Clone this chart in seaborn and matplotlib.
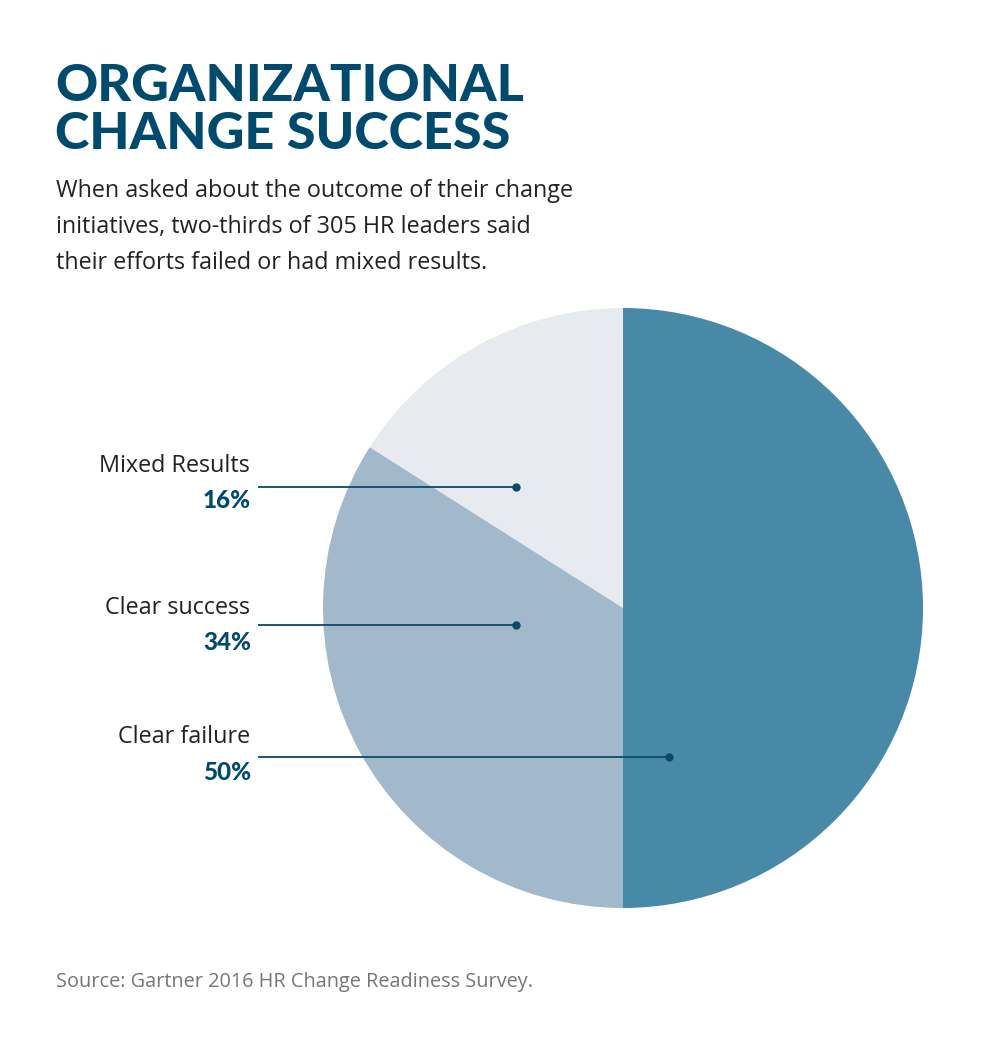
import matplotlib
matplotlib.use("Agg")
import matplotlib.pyplot as plt
import seaborn as sns

# data
categories = ["Mixed Results", "Clear success", "Clear failure"]
shares = [16, 34, 50]
pct_labels = ["16%", "34%", "50%"]
colors = ["#E7EBF0", "#A2B8CB", "#4889A8"]

TITLE_LINES = ["ORGANIZATIONAL", "CHANGE SUCCESS"]
SUBTITLE = ["When asked about the outcome of their change",
            "initiatives, two-thirds of 305 HR leaders said",
            "their efforts failed or had mixed results."]
SOURCE = "Source: Gartner 2016 HR Change Readiness Survey."

sns.set_theme(style="white")
plt.rcParams["font.family"] = ["Open Sans", "DejaVu Sans"]
LATO = ["Lato", "DejaVu Sans"]

W, H = 1001, 1041
fig = plt.figure(figsize=(W / 100, H / 100), dpi=100)
fig.patch.set_facecolor("white")

# pie axes: centre (623, 608) px, radius 300 px
cx, cy, r = 623, 608, 300
ax = fig.add_axes([(cx - r) / W, (H - cy - r) / H, 2 * r / W, 2 * r / H])
ax.pie(shares, colors=colors, startangle=90, counterclock=True,
       radius=1, wedgeprops=dict(linewidth=0))
ax.set_xlim(-1, 1)
ax.set_ylim(-1, 1)
ax.set_aspect("equal")
ax.axis("off")

# overlay in pixel coordinates for text and leader lines
ov = fig.add_axes([0, 0, 1, 1])
ov.set_xlim(0, W)
ov.set_ylim(H, 0)
ov.axis("off")
ov.patch.set_alpha(0)

dark = "#004A6E"
for i, line in enumerate(TITLE_LINES):
    ov.text(55, 101 + i * 48, line, fontsize=37.5, fontweight="black",
            family=LATO, color=dark, va="baseline", ha="left")

for i, line in enumerate(SUBTITLE):
    ov.text(56, 197 + i * 36, line, fontsize=16.8, color="#222222",
            va="baseline", ha="left")

# label layout (pixels): text baseline, line y, pct baseline, dot x
layout = [(472, 487, 508, 516), (614, 625, 650, 516), (743, 757, 780, 669)]
for name, pct, (ty, ly, py, dx) in zip(categories, pct_labels, layout):
    ov.text(250, ty, name, fontsize=16.8, color="#222222",
            va="baseline", ha="right")
    ov.text(251, py, pct, fontsize=17.5, fontweight="black", family=LATO,
            color=dark, va="baseline", ha="right")
    ov.plot([258, dx], [ly, ly], color="#0B4A6B", lw=1.3,
            solid_capstyle="butt")
    ov.plot([dx], [ly], "o", color="#0B4A6B", ms=5)

ov.text(56, 987, SOURCE, fontsize=14.3, color="#767676",
        va="baseline", ha="left")

fig.savefig("out.png", dpi=100, facecolor="white")
